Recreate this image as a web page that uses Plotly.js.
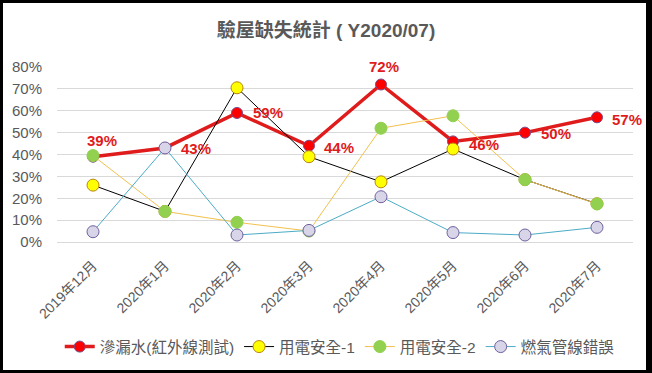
<!DOCTYPE html>
<html>
<head>
<meta charset="utf-8">
<script src="https://cdn.plot.ly/plotly-3.0.1.min.js"></script>
<style>
  html, body { margin: 0; padding: 0; background: #fff; }
  #chart { position: absolute; left: 0; top: 0; width: 652px; height: 373px; }
  #frame { position: absolute; left: 0; top: 0; width: 652px; height: 373px; box-sizing: border-box;
           border-top: 3px solid #000; border-left: 3px solid #000; border-right: 6px solid #000; border-bottom: 3px solid #000;
           pointer-events: none; }
</style>
</head>
<body>
<div id="chart"></div>
<div id="frame"></div>
<script>
// ---- data ----
var months = ['2019年12月', '2020年1月', '2020年2月', '2020年3月', '2020年4月', '2020年5月', '2020年6月', '2020年7月'];
var seriesNames = ['滲漏水(紅外線測試)', '用電安全-1', '用電安全-2', '燃氣管線錯誤'];
var leakWater   = [0.39, 0.43, 0.59, 0.44, 0.72, 0.46, 0.50, 0.57];
var electric1   = [0.26, 0.14, 0.705, 0.39, 0.275, 0.425, 0.285, 0.175];
var electric2   = [0.395, 0.14, 0.09, 0.05, 0.52, 0.577, 0.285, 0.174];
var gasPipe     = [0.047, 0.43, 0.032, 0.053, 0.207, 0.043, 0.032, 0.067];
var yTickVals   = [0, 0.1, 0.2, 0.3, 0.4, 0.5, 0.6, 0.7, 0.8];

// ---- styling for the data labels of the red series (pixel offsets) ----
var labelShiftX = [9, 31, 31, 30, 3, 31, 31, 30];
var labelShiftY = [16, -1, 0, -2, 18, -3, -1, -2];

var FONT = 'Liberation Sans, "Noto Sans CJK TC", sans-serif';
var GRAY = '#595959';

var traces = [
  {
    x: months, y: leakWater, name: seriesNames[0], type: 'scatter', mode: 'lines+markers',
    line: { color: '#e01b1b', width: 3.5 },
    marker: { color: '#ff0000', size: 11, line: { color: '#7a4a8a', width: 1 } }
  },
  {
    x: months, y: electric1, name: seriesNames[1], type: 'scatter', mode: 'lines+markers',
    line: { color: '#000000', width: 1 },
    marker: { color: '#ffff00', size: 12, line: { color: '#b8860b', width: 1 } }
  },
  {
    x: months, y: electric2, name: seriesNames[2], type: 'scatter', mode: 'lines+markers',
    line: { color: '#f2c14e', width: 1 },
    marker: { color: '#92d050', size: 12, line: { color: '#92d050', width: 1 } }
  },
  {
    x: months, y: gasPipe, name: seriesNames[3], type: 'scatter', mode: 'lines+markers',
    line: { color: '#4bacc6', width: 1 },
    marker: { color: '#d9d5e8', size: 12, line: { color: '#7060a0', width: 1 } }
  }
];

var annotations = months.map(function (m, i) {
  return {
    x: m, y: leakWater[i], xref: 'x', yref: 'y',
    text: Math.round(leakWater[i] * 100) + '%',
    showarrow: false, xshift: labelShiftX[i], yshift: labelShiftY[i],
    font: { family: FONT, size: 15, color: '#e01b1b', weight: 'bold' }
  };
});

var layout = {
  width: 652, height: 373,
  margin: { l: 57, r: 19, t: 67, b: 131 },
  paper_bgcolor: '#ffffff', plot_bgcolor: '#ffffff',
  font: { family: FONT, color: GRAY },
  title: {
    text: '<b>驗屋缺失統計 ( Y2020/07)</b>',
    x: 0.5, xref: 'container', xanchor: 'center',
    y: 1 - 30 / 373, yref: 'container', yanchor: 'middle',
    font: { family: FONT, size: 19, color: GRAY }
  },
  xaxis: {
    type: 'category', range: [-0.5, 7.5],
    tickangle: -45, tickfont: { family: FONT, size: 14, color: GRAY },
    showgrid: false, showline: true, linecolor: '#d9d9d9', linewidth: 1,
    ticks: '', zeroline: false, fixedrange: true, ticklabelstandoff: 9, automargin: false
  },
  yaxis: {
    range: [0, 0.8], tickvals: yTickVals, tickformat: '.0%',
    tickfont: { family: FONT, size: 15, color: GRAY },
    showgrid: true, gridcolor: '#d9d9d9', gridwidth: 1,
    zeroline: false, showline: false, ticks: '', ticklabelstandoff: 14, fixedrange: true, automargin: false
  },
  showlegend: true,
  legend: {
    orientation: 'h', x: 0.49, xanchor: 'center',
    yref: 'container', y: 1 - 347 / 373, yanchor: 'middle',
    font: { family: FONT, size: 15.5, color: GRAY }, traceorder: 'normal', itemwidth: 30
  },
  annotations: annotations
};

Plotly.newPlot('chart', traces, layout, { displayModeBar: false, staticPlot: true });
</script>
</body>
</html>
